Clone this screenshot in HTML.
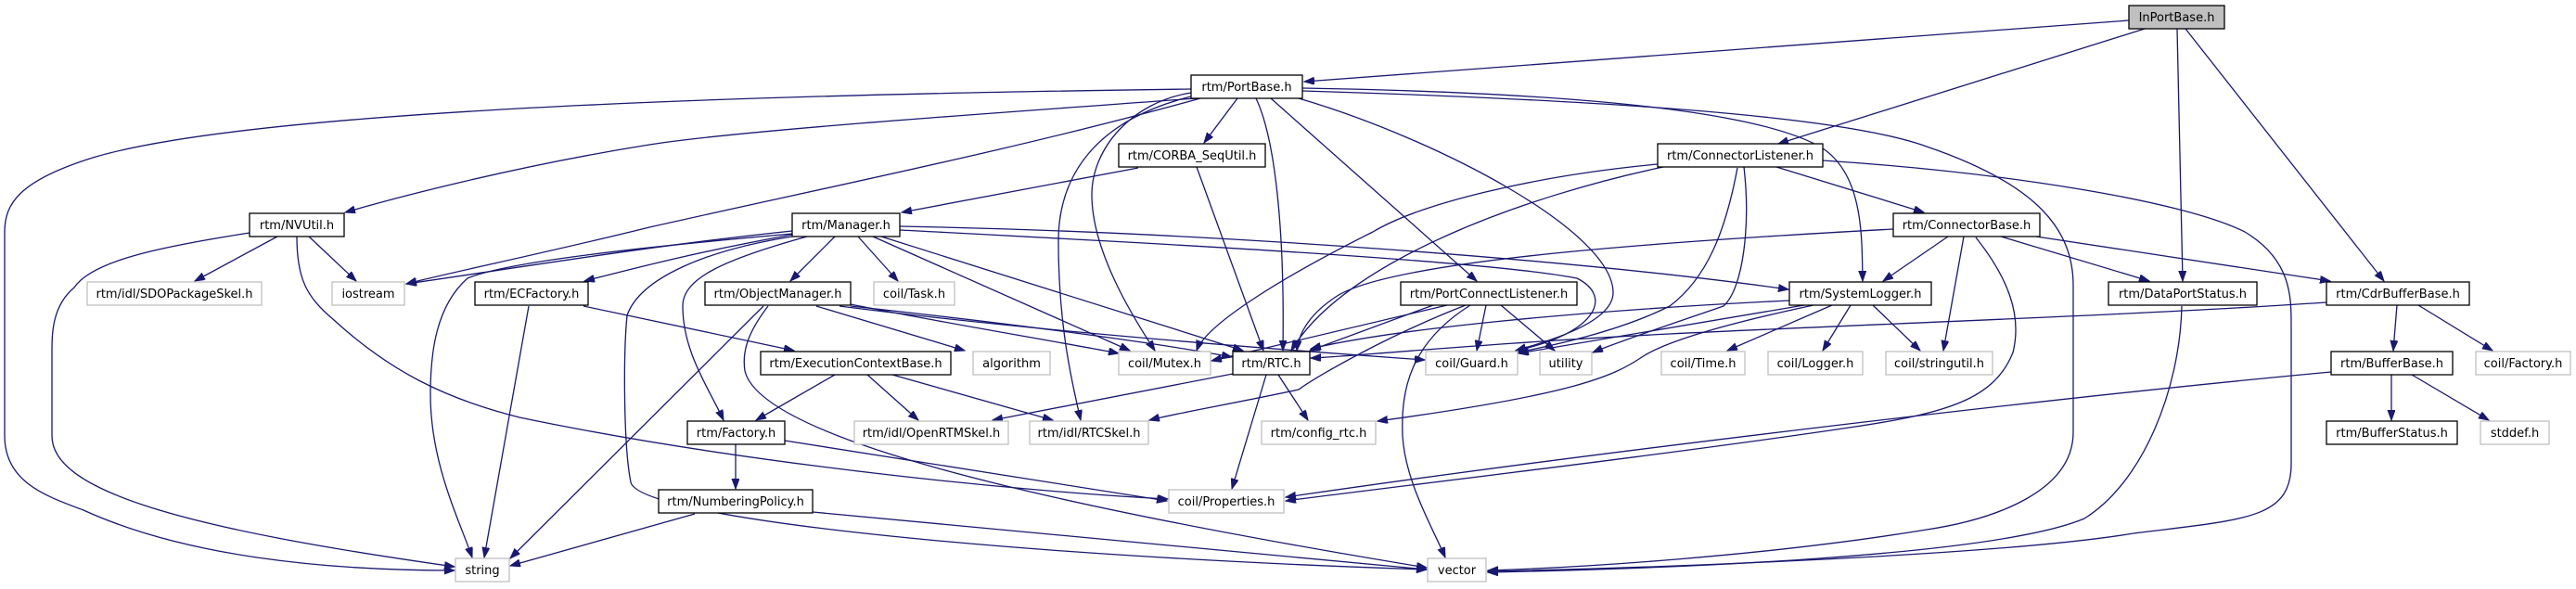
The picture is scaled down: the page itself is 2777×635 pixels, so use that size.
<!DOCTYPE html>
<html><head><meta charset="utf-8"><style>
html,body{margin:0;padding:0;background:#fff;}
svg{display:block;}
text{font-family:"DejaVu Sans","Liberation Sans",sans-serif;font-size:13px;fill:#000;}
.e{fill:none;stroke:#191970;stroke-width:1.3;marker-end:url(#a);}
.b{fill:#fff;stroke:#000;stroke-width:1.3;}
.g{fill:#fff;stroke:#bfbfbf;stroke-width:1.3;}
</style></head><body>
<svg width="2777" height="635" viewBox="0 0 2777 635" xmlns="http://www.w3.org/2000/svg">
<defs><marker id="a" markerUnits="userSpaceOnUse" markerWidth="12" markerHeight="9" refX="11" refY="4" orient="auto"><path d="M0,0 L11,4 L0,8 z" fill="#191970" stroke="#191970"/></marker></defs>
<g>
<!-- InPortBase -->
<path class="e" d="M2295 22 L1406 88"/>
<path class="e" d="M2312 31 L1917 155"/>
<path class="e" d="M2347 31 L2353 303"/>
<path class="e" d="M2356 31 L2570 303"/>
<!-- PortBase -->
<path class="e" d="M1284 96 C1000 100 300 110 100 170 C20 195 5 220 5 250 L5 470 C5 520 50 535 90 550 C200 600 350 615 490 615"/>
<path class="e" d="M1290 106 C1100 120 800 140 700 156 C550 180 420 215 372 229"/>
<path class="e" d="M1294 106 C1100 160 900 200 700 245 C600 270 480 295 438 306"/>
<path class="e" d="M1334 106 L1298 154"/>
<path class="e" d="M1354 106 C1375 150 1385 250 1383 378"/>
<path class="e" d="M1284 100 C1220 110 1177 160 1177 210 C1177 270 1220 340 1245 378"/>
<path class="e" d="M1284 104 C1180 130 1141 190 1141 260 C1141 350 1155 410 1165 453"/>
<path class="e" d="M1370 106 L1592 303"/>
<path class="e" d="M1400 106 C1550 150 1740 250 1739 316 C1738 350 1660 370 1634 378"/>
<path class="e" d="M1404 95 C1700 100 1900 120 1965 160 C2010 190 2007 260 2008 303"/>
<path class="e" d="M1404 98 C1800 110 2000 130 2077 158 C2200 200 2235 250 2235 308 L2235 466 C2235 530 2150 560 2077 571 C1900 600 1700 612 1604 615"/>
<!-- ConnectorListener -->
<path class="e" d="M1787 177 C1650 190 1530 220 1480 250 C1380 300 1300 350 1290 378"/>
<path class="e" d="M1793 180 C1650 210 1450 280 1392 378"/>
<path class="e" d="M1873 181 C1860 250 1840 300 1800 330 C1740 360 1660 375 1636 380"/>
<path class="e" d="M1880 180 C1887 240 1880 310 1858 330 C1800 350 1740 370 1717 380"/>
<path class="e" d="M1915 180 L2074 229"/>
<path class="e" d="M1965 173 C2150 185 2350 215 2420 250 C2470 280 2470 320 2470 350 L2470 500 C2470 560 2420 560 2300 575 C2150 600 1750 613 1604 616"/>
<!-- ConnectorBase -->
<path class="e" d="M2041 247 C1800 260 1500 280 1440 320 C1410 340 1400 360 1398 378"/>
<path class="e" d="M2100 255 L2030 303"/>
<path class="e" d="M2117 255 L2095 378"/>
<path class="e" d="M2130 256 C2165 300 2180 340 2170 380 C2150 430 2100 445 2000 460 C1800 490 1500 525 1386 540"/>
<path class="e" d="M2157 255 L2317 303"/>
<path class="e" d="M2195 255 L2512 303"/>
<!-- SystemLogger -->
<path class="e" d="M1929 324 C1700 335 1500 355 1413 376"/>
<path class="e" d="M1945 329 L1637 381"/>
<path class="e" d="M1955 329 C1880 345 1800 365 1770 385 C1740 405 1700 425 1485 454"/>
<path class="e" d="M1975 329 L1862 378"/>
<path class="e" d="M1995 329 L1965 378"/>
<path class="e" d="M2019 329 L2070 378"/>
<!-- PortConnectListener -->
<path class="e" d="M1545 329 L1412 378"/>
<path class="e" d="M1560 329 L1306 389"/>
<path class="e" d="M1602 329 L1592 378"/>
<path class="e" d="M1618 329 L1676 378"/>
<path class="e" d="M1580 329 C1500 360 1420 405 1400 420 C1330 435 1270 445 1239 453"/>
<path class="e" d="M1585 329 C1520 370 1510 420 1512 470 C1515 520 1545 570 1558 601"/>
<!-- CdrBufferBase / BufferBase -->
<path class="e" d="M2508 326 C2300 340 2000 350 1800 360 C1600 370 1450 385 1413 386"/>
<path class="e" d="M2584 329 L2580 378"/>
<path class="e" d="M2607 329 L2687 378"/>
<path class="e" d="M2578 404 L2578 453"/>
<path class="e" d="M2600 404 L2683 453"/>
<path class="e" d="M2513 401 C2200 430 1700 490 1386 536"/>
<path class="e" d="M2352 330 C2350 420 2310 520 2247 559 C2150 600 1800 613 1604 617"/>
<!-- CORBA_SeqUtil -->
<path class="e" d="M1227 181 L972 229"/>
<path class="e" d="M1290 180 L1362 378"/>
<!-- Manager -->
<path class="e" d="M854 249 C700 265 550 290 438 306"/>
<path class="e" d="M854 252 C650 270 540 285 504 300 C470 330 464 380 464 425 C464 500 495 560 509 601"/>
<path class="e" d="M854 253 C760 270 700 285 630 303"/>
<path class="e" d="M900 255 L852 303"/>
<path class="e" d="M925 255 L968 303"/>
<path class="e" d="M941 255 L1218 378"/>
<path class="e" d="M950 255 L1340 378"/>
<path class="e" d="M970 244 C1300 250 1700 280 1928 312"/>
<path class="e" d="M970 248 C1200 260 1600 280 1700 300 C1740 320 1720 360 1634 378"/>
<path class="e" d="M870 255 C780 280 736 300 736 330 C736 380 765 420 780 453"/>
<path class="e" d="M854 255 C760 270 690 300 676 340 C672 380 672 480 680 520 C690 560 1100 600 1538 614"/>
<!-- NVUtil -->
<path class="e" d="M269 251 C180 265 100 280 80 310 C56 330 56 360 56 380 L56 470 C56 530 200 570 490 611"/>
<path class="e" d="M299 255 L210 303"/>
<path class="e" d="M333 255 L384 303"/>
<path class="e" d="M320 255 C320 300 330 320 360 345 C420 400 480 430 560 450 C800 500 1100 530 1259 538"/>
<!-- ECFactory -->
<path class="e" d="M570 330 L522 601"/>
<path class="e" d="M629 330 L856 378"/>
<!-- ObjectManager -->
<path class="e" d="M917 328 C1000 345 1150 370 1206 381"/>
<path class="e" d="M917 330 C1100 350 1250 370 1328 385"/>
<path class="e" d="M905 330 C1100 355 1350 375 1536 388"/>
<path class="e" d="M880 330 L1040 378"/>
<path class="e" d="M823 330 L550 602"/>
<path class="e" d="M828 330 C805 360 800 380 803 400 C820 470 1100 540 1538 612"/>
<!-- ExecutionContextBase -->
<path class="e" d="M900 404 L815 453"/>
<path class="e" d="M935 404 L990 453"/>
<path class="e" d="M962 404 L1135 453"/>
<!-- RTC -->
<path class="e" d="M1329 403 L1070 453"/>
<path class="e" d="M1378 404 L1410 453"/>
<path class="e" d="M1365 404 L1328 527"/>
<!-- Factory / NumberingPolicy -->
<path class="e" d="M793 479 L793 527"/>
<path class="e" d="M846 475 L1258 540"/>
<path class="e" d="M749 554 L550 610"/>
<path class="e" d="M876 552 L1538 614"/>
</g>
<g>
<rect x="2295" y="6" width="103" height="25" fill="#bfbfbf" stroke="#000" stroke-width="1.3"/><text x="2346.5" y="23" text-anchor="middle">InPortBase.h</text>
<rect class="b" x="1284" y="81" width="120" height="25"/><text x="1344" y="98" text-anchor="middle">rtm/PortBase.h</text>
<rect class="b" x="1206" y="155" width="158" height="25"/><text x="1285" y="172" text-anchor="middle">rtm/CORBA_SeqUtil.h</text>
<rect class="b" x="1787" y="155" width="178" height="25"/><text x="1876" y="172" text-anchor="middle">rtm/ConnectorListener.h</text>
<rect class="b" x="269" y="230" width="102" height="25"/><text x="320" y="247" text-anchor="middle">rtm/NVUtil.h</text>
<rect class="b" x="854" y="230" width="116" height="25"/><text x="912" y="247" text-anchor="middle">rtm/Manager.h</text>
<rect class="b" x="2041" y="230" width="158" height="25"/><text x="2120" y="247" text-anchor="middle">rtm/ConnectorBase.h</text>
<rect class="g" x="94" y="304" width="188" height="25"/><text x="188" y="321" text-anchor="middle">rtm/idl/SDOPackageSkel.h</text>
<rect class="g" x="358" y="304" width="78" height="25"/><text x="397" y="321" text-anchor="middle">iostream</text>
<rect class="b" x="512" y="304" width="122" height="25"/><text x="573" y="321" text-anchor="middle">rtm/ECFactory.h</text>
<rect class="b" x="760" y="304" width="157" height="25"/><text x="838.5" y="321" text-anchor="middle">rtm/ObjectManager.h</text>
<rect class="g" x="942" y="304" width="87" height="25"/><text x="985.5" y="321" text-anchor="middle">coil/Task.h</text>
<rect class="b" x="1510" y="304" width="190" height="25"/><text x="1605" y="321" text-anchor="middle">rtm/PortConnectListener.h</text>
<rect class="b" x="1929" y="304" width="153" height="25"/><text x="2005.5" y="321" text-anchor="middle">rtm/SystemLogger.h</text>
<rect class="b" x="2273" y="304" width="160" height="25"/><text x="2353" y="321" text-anchor="middle">rtm/DataPortStatus.h</text>
<rect class="b" x="2508" y="304" width="154" height="25"/><text x="2585" y="321" text-anchor="middle">rtm/CdrBufferBase.h</text>
<rect class="b" x="820" y="379" width="205" height="25"/><text x="922.5" y="396" text-anchor="middle">rtm/ExecutionContextBase.h</text>
<rect class="g" x="1049" y="379" width="83" height="25"/><text x="1090.5" y="396" text-anchor="middle">algorithm</text>
<rect class="g" x="1206" y="379" width="99" height="25"/><text x="1255.5" y="396" text-anchor="middle">coil/Mutex.h</text>
<rect class="b" x="1329" y="379" width="83" height="25"/><text x="1370.5" y="396" text-anchor="middle">rtm/RTC.h</text>
<rect class="g" x="1537" y="379" width="99" height="25"/><text x="1586.5" y="396" text-anchor="middle">coil/Guard.h</text>
<rect class="g" x="1660" y="379" width="56" height="25"/><text x="1688" y="396" text-anchor="middle">utility</text>
<rect class="g" x="1791" y="379" width="90" height="25"/><text x="1836" y="396" text-anchor="middle">coil/Time.h</text>
<rect class="g" x="1906" y="379" width="102" height="25"/><text x="1957" y="396" text-anchor="middle">coil/Logger.h</text>
<rect class="g" x="2033" y="379" width="115" height="25"/><text x="2090.5" y="396" text-anchor="middle">coil/stringutil.h</text>
<rect class="b" x="2513" y="379" width="131" height="25"/><text x="2578.5" y="396" text-anchor="middle">rtm/BufferBase.h</text>
<rect class="g" x="2669" y="379" width="102" height="25"/><text x="2720" y="396" text-anchor="middle">coil/Factory.h</text>
<rect class="b" x="741" y="454" width="105" height="25"/><text x="793.5" y="471" text-anchor="middle">rtm/Factory.h</text>
<rect class="g" x="921" y="454" width="166" height="25"/><text x="1004" y="471" text-anchor="middle">rtm/idl/OpenRTMSkel.h</text>
<rect class="g" x="1110" y="454" width="128" height="25"/><text x="1174" y="471" text-anchor="middle">rtm/idl/RTCSkel.h</text>
<rect class="g" x="1360" y="454" width="123" height="25"/><text x="1421.5" y="471" text-anchor="middle">rtm/config_rtc.h</text>
<rect class="b" x="2508" y="454" width="141" height="25"/><text x="2578.5" y="471" text-anchor="middle">rtm/BufferStatus.h</text>
<rect class="g" x="2674" y="454" width="74" height="25"/><text x="2711" y="471" text-anchor="middle">stddef.h</text>
<rect class="b" x="710" y="528" width="166" height="25"/><text x="793" y="545" text-anchor="middle">rtm/NumberingPolicy.h</text>
<rect class="g" x="1260" y="528" width="124" height="25"/><text x="1322" y="545" text-anchor="middle">coil/Properties.h</text>
<rect class="g" x="491" y="602" width="58" height="25"/><text x="520" y="619" text-anchor="middle">string</text>
<rect class="g" x="1539" y="602" width="63" height="25"/><text x="1570.5" y="619" text-anchor="middle">vector</text>
</g>
</svg>
</body></html>
